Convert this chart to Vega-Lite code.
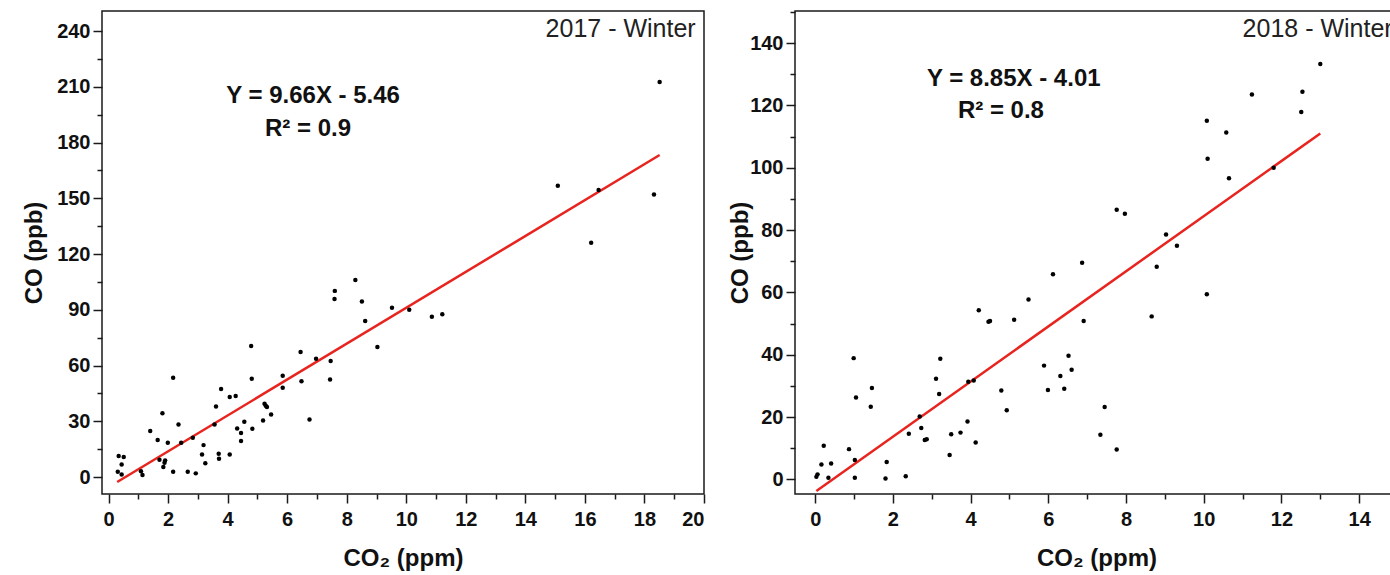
{
  "$schema": "https://vega.github.io/schema/vega-lite/v6.json",
  "padding": {"left": 21, "top": 10, "right": 0, "bottom": 0},
  "autosize": {"type": "pad"},
  "bounds": "flush",
  "spacing": 91,
  "background": "white",
  "config": {
    "view": {"stroke": "#1a1a1a", "strokeWidth": 1.5},
    "font": "Liberation Sans",
    "axis": {
      "domain": false, "grid": false,
      "tickColor": "#1a1a1a", "tickWidth": 1.5,
      "labelFont": "Liberation Sans", "labelFontSize": 20, "labelFontWeight": "bold", "labelColor": "#111",
      "titleFont": "Liberation Sans", "titleFontSize": 24, "titleFontWeight": "bold", "titleColor": "#111"
    },
    "axisX": {"labelPadding": 6, "titlePadding": 17},
    "axisY": {"labelPadding": 3, "titlePadding": 10}
  },
  "datasets": {
    "pts17": [
      {"co2": 0.34, "co": 11.3}, {"co2": 0.51, "co": 10.8}, {"co2": 0.44, "co": 6.8}, {"co2": 0.31, "co": 2.9},
      {"co2": 0.44, "co": 1.4}, {"co2": 1.09, "co": 3.2}, {"co2": 1.14, "co": 1.1}, {"co2": 1.40, "co": 24.8},
      {"co2": 1.65, "co": 19.9}, {"co2": 1.81, "co": 34.4}, {"co2": 1.71, "co": 9.3}, {"co2": 1.90, "co": 9.0},
      {"co2": 1.88, "co": 7.7}, {"co2": 1.84, "co": 5.4}, {"co2": 1.99, "co": 18.5}, {"co2": 2.17, "co": 53.5},
      {"co2": 2.17, "co": 2.9}, {"co2": 2.35, "co": 28.3}, {"co2": 2.44, "co": 18.5}, {"co2": 2.66, "co": 2.9},
      {"co2": 2.83, "co": 21.2}, {"co2": 2.93, "co": 2.0}, {"co2": 3.19, "co": 17.2}, {"co2": 3.14, "co": 12.2},
      {"co2": 3.25, "co": 7.5}, {"co2": 3.61, "co": 38.0}, {"co2": 3.56, "co": 28.3}, {"co2": 3.78, "co": 47.4},
      {"co2": 3.70, "co": 12.6}, {"co2": 3.71, "co": 9.9}, {"co2": 4.07, "co": 12.2}, {"co2": 4.07, "co": 43.1},
      {"co2": 4.27, "co": 43.6}, {"co2": 4.32, "co": 26.2}, {"co2": 4.45, "co": 23.7}, {"co2": 4.45, "co": 19.4},
      {"co2": 4.56, "co": 29.8}, {"co2": 4.79, "co": 70.5}, {"co2": 4.81, "co": 52.9}, {"co2": 4.83, "co": 26.0},
      {"co2": 5.19, "co": 30.5}, {"co2": 5.24, "co": 39.5}, {"co2": 5.28, "co": 38.4}, {"co2": 5.32, "co": 37.7},
      {"co2": 5.46, "co": 33.7}, {"co2": 5.85, "co": 54.5}, {"co2": 5.85, "co": 48.1}, {"co2": 6.45, "co": 67.3},
      {"co2": 6.48, "co": 51.6}, {"co2": 6.75, "co": 31.0}, {"co2": 6.97, "co": 63.7}, {"co2": 7.46, "co": 62.5},
      {"co2": 7.44, "co": 52.5}, {"co2": 7.60, "co": 100.2}, {"co2": 7.59, "co": 95.8}, {"co2": 8.29, "co": 106.0},
      {"co2": 8.51, "co": 94.5}, {"co2": 8.62, "co": 84.0}, {"co2": 9.03, "co": 70.0}, {"co2": 9.52, "co": 91.1},
      {"co2": 10.10, "co": 90.0}, {"co2": 10.86, "co": 86.3}, {"co2": 11.21, "co": 87.6}, {"co2": 15.09, "co": 156.8},
      {"co2": 16.46, "co": 154.5}, {"co2": 16.21, "co": 126.1}, {"co2": 18.32, "co": 152.0}, {"co2": 18.51, "co": 212.6}
    ],
    "fit17": [{"co2": 0.29, "co": -2.66}, {"co2": 18.51, "co": 173.3}],
    "eq17": [
      {"co2": 6.87, "co": 205, "label": "Y = 9.66X - 5.46"},
      {"co2": 6.70, "co": 187.3, "label": "R² = 0.9"}
    ],
    "tag17": [{"co2": 19.72, "co": 241, "label": "2017 - Winter"}],
    "pts18": [
      {"co2": 0.99, "co": 38.9}, {"co2": 1.05, "co": 26.3}, {"co2": 1.46, "co": 29.3}, {"co2": 1.43, "co": 23.3},
      {"co2": 0.22, "co": 10.8}, {"co2": 0.87, "co": 9.7}, {"co2": 0.16, "co": 4.8}, {"co2": 0.41, "co": 5.1},
      {"co2": 1.02, "co": 6.2}, {"co2": 0.03, "co": 0.8}, {"co2": 0.06, "co": 1.6}, {"co2": 0.34, "co": 0.5},
      {"co2": 1.02, "co": 0.5}, {"co2": 1.84, "co": 5.6}, {"co2": 1.81, "co": 0.3}, {"co2": 2.33, "co": 1.0},
      {"co2": 2.41, "co": 14.6}, {"co2": 2.69, "co": 20.2}, {"co2": 2.73, "co": 16.5}, {"co2": 2.82, "co": 12.6},
      {"co2": 2.87, "co": 12.9}, {"co2": 3.11, "co": 32.3}, {"co2": 3.19, "co": 27.4}, {"co2": 3.22, "co": 38.7},
      {"co2": 3.46, "co": 7.8}, {"co2": 3.50, "co": 14.5}, {"co2": 3.74, "co": 15.0}, {"co2": 3.92, "co": 18.6},
      {"co2": 4.13, "co": 11.8}, {"co2": 3.94, "co": 31.3}, {"co2": 4.08, "co": 31.7}, {"co2": 4.79, "co": 28.5},
      {"co2": 4.93, "co": 22.2}, {"co2": 4.21, "co": 54.3}, {"co2": 4.46, "co": 50.6}, {"co2": 4.50, "co": 50.8},
      {"co2": 5.12, "co": 51.2}, {"co2": 5.49, "co": 57.7}, {"co2": 5.89, "co": 36.5}, {"co2": 5.99, "co": 28.7},
      {"co2": 6.12, "co": 65.8}, {"co2": 6.31, "co": 33.2}, {"co2": 6.41, "co": 29.1}, {"co2": 6.52, "co": 39.7},
      {"co2": 6.60, "co": 35.2}, {"co2": 6.87, "co": 69.5}, {"co2": 6.91, "co": 50.8}, {"co2": 7.34, "co": 14.3},
      {"co2": 7.45, "co": 23.2}, {"co2": 7.76, "co": 9.6}, {"co2": 8.79, "co": 68.2}, {"co2": 8.66, "co": 52.3},
      {"co2": 13.0, "co": 133.3}, {"co2": 12.54, "co": 124.4}, {"co2": 12.51, "co": 117.9}, {"co2": 11.24, "co": 123.5},
      {"co2": 10.08, "co": 115.1}, {"co2": 10.58, "co": 111.3}, {"co2": 10.10, "co": 102.9}, {"co2": 10.65, "co": 96.6},
      {"co2": 11.80, "co": 100.0}, {"co2": 7.76, "co": 86.5}, {"co2": 7.97, "co": 85.2}, {"co2": 9.03, "co": 78.6},
      {"co2": 9.31, "co": 75.0}, {"co2": 10.08, "co": 59.4}
    ],
    "fit18": [{"co2": 0.03, "co": -3.74}, {"co2": 13.0, "co": 111.0}],
    "eq18": [
      {"co2": 5.11, "co": 128.5, "label": "Y = 8.85X - 4.01"},
      {"co2": 4.78, "co": 118.2, "label": "R² = 0.8"}
    ],
    "tag18": [{"co2": 11.0, "co": 144.5, "label": "2018 - Winter"}]
  },
  "hconcat": [
    {
      "width": 602,
      "height": 483,
      "encoding": {
        "x": {
          "field": "co2", "type": "quantitative",
          "scale": {"domain": [-0.22, 20], "nice": false, "zero": false},
          "axis": {
            "title": "CO₂ (ppm)",
            "values": [0,1,2,3,4,5,6,7,8,9,10,11,12,13,14,15,16,17,18,19,20],
            "labelExpr": "datum.value % 2 === 0 ? datum.label : ''",
            "tickSize": {"condition": {"test": "datum.value % 2 === 0", "value": 9}, "value": 5}
          }
        },
        "y": {
          "field": "co", "type": "quantitative",
          "scale": {"domain": [-9.1, 250.8], "nice": false, "zero": false},
          "axis": {
            "title": "CO (ppb)",
            "values": [0,15,30,45,60,75,90,105,120,135,150,165,180,195,210,225,240],
            "labelExpr": "datum.value % 30 === 0 ? datum.label : ''",
            "tickSize": {"condition": {"test": "datum.value % 30 === 0", "value": 9}, "value": 5}
          }
        }
      },
      "layer": [
        {"data": {"name": "fit17"}, "mark": {"type": "line", "color": "#e8241f", "strokeWidth": 2.5}, "encoding": {}},
        {"data": {"name": "pts17"}, "mark": {"type": "circle", "size": 20, "color": "#000", "opacity": 1}},
        {"data": {"name": "eq17"}, "mark": {"type": "text", "font": "Liberation Sans", "fontSize": 24, "fontWeight": "bold", "color": "#111", "align": "center", "baseline": "middle"}, "encoding": {"text": {"field": "label"}}},
        {"data": {"name": "tag17"}, "mark": {"type": "text", "font": "Liberation Sans", "fontSize": 25, "color": "#222", "align": "right", "baseline": "middle"}, "encoding": {"text": {"field": "label"}}}
      ]
    },
    {
      "width": 603,
      "height": 483,
      "encoding": {
        "x": {
          "field": "co2", "type": "quantitative",
          "scale": {"domain": [-0.52, 15], "nice": false, "zero": false},
          "axis": {
            "title": "CO₂ (ppm)",
            "values": [0,1,2,3,4,5,6,7,8,9,10,11,12,13,14,15],
            "labelExpr": "datum.value % 2 === 0 ? datum.label : ''",
            "tickSize": {"condition": {"test": "datum.value % 2 === 0", "value": 9}, "value": 5}
          }
        },
        "y": {
          "field": "co", "type": "quantitative",
          "scale": {"domain": [-4.7, 150.3], "nice": false, "zero": false},
          "axis": {
            "title": "CO (ppb)",
            "titlePadding": -3,
            "values": [0,10,20,30,40,50,60,70,80,90,100,110,120,130,140,150],
            "labelExpr": "datum.value % 20 === 0 ? datum.label : ''",
            "tickSize": {"condition": {"test": "datum.value % 20 === 0", "value": 9}, "value": 5}
          }
        }
      },
      "layer": [
        {"data": {"name": "fit18"}, "mark": {"type": "line", "color": "#e8241f", "strokeWidth": 2.5}, "encoding": {}},
        {"data": {"name": "pts18"}, "mark": {"type": "circle", "size": 20, "color": "#000", "opacity": 1}},
        {"data": {"name": "eq18"}, "mark": {"type": "text", "font": "Liberation Sans", "fontSize": 24, "fontWeight": "bold", "color": "#111", "align": "center", "baseline": "middle"}, "encoding": {"text": {"field": "label"}}},
        {"data": {"name": "tag18"}, "mark": {"type": "text", "font": "Liberation Sans", "fontSize": 25, "color": "#222", "align": "left", "baseline": "middle"}, "encoding": {"text": {"field": "label"}}}
      ]
    }
  ]
}
